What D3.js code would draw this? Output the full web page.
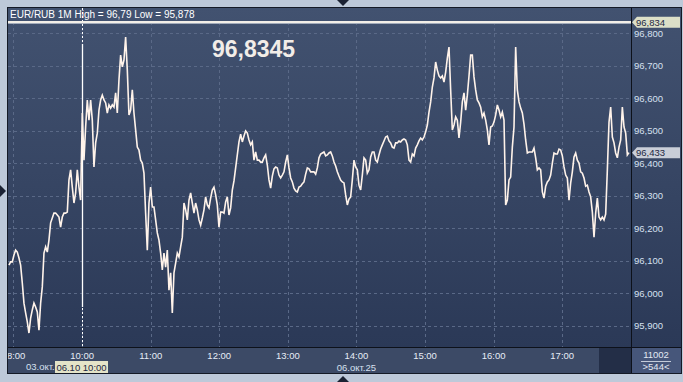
<!DOCTYPE html>
<html>
<head>
<meta charset="utf-8">
<script src="https://cdn.jsdelivr.net/npm/d3@7"></script>
<style>
  html, body { margin: 0; padding: 0; background: #bdc9d9; }
  svg { display: block; font-family: "Liberation Sans", Arial, sans-serif; }
</style>
</head>
<body>
<div id="chart"></div>
<script>
// EUR/RUB 1M tick chart, 03.10 – 06.10.2025

const title = 'EUR/RUB 1M High = 96,79 Low = 95,878';
const bigQuote = '96,8345';
const hourTicks = ['08:00', '10:00', '11:00', '12:00', '13:00', '14:00', '15:00', '16:00', '17:00'];
const yTicks = [95.9, 96.0, 96.1, 96.2, 96.3, 96.4, 96.5, 96.6, 96.7, 96.8];
const priceDomain = [95.835, 96.835];
const hourDomain = [-0.08, 9.003];        // axis position in session hours
const seriesSpan = [-0.066, 8.974];       // first / last quote position
const cursorHour = 1;                     // 06.10 10:00
const cursorRange = [95.958, 96.767];
const markLevel = 96.834;
const lastPrice = 96.433;
const barsTotal = 11002, barsShown = 544;
const dateLeft = '03.окт.', dateCursor = '06.10 10:00', dateMid = '06.окт.25';

// quotes left to right
const prices = [
  96.087, 96.097, 96.097, 96.118, 96.133, 96.127, 96.109, 96.087, 96.032, 95.970,
  95.940, 95.912, 95.878, 95.924, 95.949, 95.970, 95.958, 95.943, 95.887, 95.970,
  96.020, 96.124, 96.143, 96.127, 96.164, 96.217, 96.232, 96.247, 96.247, 96.241,
  96.235, 96.204, 96.235, 96.247, 96.247, 96.250, 96.349, 96.380, 96.327, 96.278,
  96.309, 96.380, 96.327, 96.287, 96.555, 96.410, 96.512, 96.595, 96.533, 96.595,
  96.533, 96.389, 96.463, 96.493, 96.564, 96.595, 96.610, 96.595, 96.586, 96.555,
  96.580, 96.570, 96.580, 96.573, 96.617, 96.555, 96.657, 96.733, 96.697, 96.718,
  96.789, 96.687, 96.549, 96.564, 96.626, 96.555, 96.503, 96.450, 96.441, 96.410,
  96.401, 96.370, 96.247, 96.133, 96.278, 96.327, 96.266, 96.266, 96.226, 96.186,
  96.164, 96.124, 96.072, 96.124, 96.081, 96.133, 96.010, 96.063, 95.940, 96.063,
  96.093, 96.124, 96.112, 96.143, 96.173, 96.278, 96.257, 96.226, 96.287, 96.309,
  96.278, 96.247, 96.278, 96.257, 96.226,
  96.210, 96.232, 96.257, 96.297, 96.272, 96.263, 96.293, 96.318, 96.327, 96.303,
  96.272, 96.204, 96.250, 96.250, 96.247, 96.281, 96.297, 96.241, 96.263, 96.318,
  96.346, 96.386, 96.426, 96.466, 96.490, 96.466, 96.484, 96.500, 96.493, 96.472,
  96.457, 96.466, 96.410, 96.435, 96.410, 96.410, 96.404, 96.404, 96.417, 96.426,
  96.395, 96.349, 96.324, 96.361, 96.383, 96.389, 96.386, 96.364, 96.355, 96.364,
  96.374, 96.404, 96.426, 96.386, 96.355, 96.343, 96.324, 96.315, 96.312, 96.327,
  96.330, 96.337, 96.343, 96.367, 96.386, 96.383, 96.374, 96.374, 96.374, 96.367,
  96.386, 96.417, 96.429, 96.432, 96.435, 96.423, 96.426, 96.432, 96.435, 96.423,
  96.404, 96.392, 96.374, 96.361, 96.349, 96.343, 96.340, 96.303, 96.272, 96.290,
  96.297, 96.349, 96.410, 96.389, 96.380, 96.333, 96.318, 96.364, 96.417, 96.410,
  96.370, 96.380, 96.420, 96.435, 96.435, 96.410, 96.404, 96.426, 96.444, 96.457,
  96.469, 96.481, 96.484, 96.469, 96.463, 96.450, 96.447, 96.463, 96.463, 96.469,
  96.466, 96.472, 96.475, 96.472, 96.457, 96.410, 96.404, 96.429, 96.423, 96.447,
  96.457, 96.469, 96.478, 96.472, 96.481, 96.497, 96.518, 96.558, 96.589, 96.635,
  96.663, 96.712, 96.687, 96.669, 96.663, 96.669, 96.650, 96.681, 96.724, 96.758,
  96.626, 96.503, 96.518, 96.543, 96.533, 96.478, 96.527, 96.589, 96.617, 96.564,
  96.610, 96.669, 96.733, 96.733, 96.666, 96.626, 96.595, 96.586, 96.573, 96.543,
  96.555, 96.533, 96.503, 96.457, 96.512, 96.515, 96.527, 96.549, 96.580, 96.564,
  96.543, 96.558, 96.533, 96.272, 96.287, 96.349, 96.358, 96.450, 96.512, 96.758,
  96.626, 96.589, 96.570, 96.555, 96.521, 96.472, 96.432, 96.435, 96.435, 96.435,
  96.447, 96.417, 96.380, 96.386, 96.380, 96.312, 96.293, 96.330, 96.343, 96.349,
  96.364, 96.401, 96.432, 96.429, 96.429, 96.444, 96.441, 96.423, 96.389, 96.364,
  96.355, 96.287, 96.340, 96.374, 96.420, 96.432, 96.410, 96.401, 96.374, 96.370,
  96.355, 96.330, 96.333, 96.312, 96.297, 96.250, 96.173, 96.247, 96.293, 96.235,
  96.226, 96.235, 96.226, 96.244, 96.380, 96.527, 96.573, 96.481, 96.463, 96.432,
  96.417, 96.450, 96.472, 96.573, 96.512, 96.493, 96.426, 96.433
];

const W = 683, H = 382;
const L = 8, R = 631, T = 8, B = 347, AX = 681, AB = 373;
const fmtY = v => d3.format('.3f')(v).replace('.', ',');

const svg = d3.select('#chart').append('svg')
  .attr('width', W).attr('height', H);

const defs = svg.append('defs');
const grad = defs.append('linearGradient').attr('id', 'bg')
  .attr('x1', 0).attr('y1', 0).attr('x2', 0).attr('y2', 1);
grad.append('stop').attr('offset', '0%').attr('stop-color', '#425270');
grad.append('stop').attr('offset', '100%').attr('stop-color', '#2b3957');
defs.append('clipPath').attr('id', 'plotClip')
  .append('rect').attr('x', L).attr('y', T).attr('width', R - L).attr('height', AB - T);

// frame arrows
svg.append('path').attr('d', 'M337,0L349,0L343,6Z').attr('fill', '#1b2233');
svg.append('path').attr('d', 'M337,382L349,382L343,376Z').attr('fill', '#1b2233');
svg.append('path').attr('d', 'M0,185L0,197L6,191Z').attr('fill', '#1b2233');

// panel backgrounds
svg.append('rect').attr('x', L).attr('y', T).attr('width', AX - L).attr('height', B - T)
  .attr('fill', 'url(#bg)');
svg.append('rect').attr('x', L).attr('y', B).attr('width', R - L).attr('height', AB - B)
  .attr('fill', '#3c4a66');
svg.append('rect').attr('x', 599).attr('y', B + 1).attr('width', R - 599).attr('height', AB - B - 1)
  .attr('fill', '#232e47');
svg.append('rect').attr('x', R).attr('y', B).attr('width', AX - R).attr('height', AB - B)
  .attr('fill', '#46567a');

const x = d3.scaleLinear().domain(hourDomain).range([L, R]);
const y = d3.scaleLinear().domain(priceDomain).range([B, 22]);

// grid
const grid = svg.append('g').attr('stroke', '#5a6987').attr('stroke-dasharray', '3,3')
  .attr('shape-rendering', 'crispEdges');
grid.selectAll('.gh').data(yTicks).join('line')
  .attr('x1', L).attr('x2', R)
  .attr('y1', d => Math.round(y(d)) + 0.5).attr('y2', d => Math.round(y(d)) + 0.5);
grid.selectAll('.gv').data(hourTicks.map((t, i) => i)).join('line')
  .attr('x1', d => Math.round(x(d)) + 0.5).attr('x2', d => Math.round(x(d)) + 0.5)
  .attr('y1', 22).attr('y2', B);

// cursor at 06.10 10:00
const cx = Math.round(x(cursorHour)) + 0.5;
svg.append('line').attr('x1', cx).attr('x2', cx).attr('y1', T).attr('y2', B)
  .attr('stroke', '#ffffff').attr('stroke-dasharray', '2,2').attr('shape-rendering', 'crispEdges');
svg.append('line').attr('x1', cx).attr('x2', cx)
  .attr('y1', y(cursorRange[1])).attr('y2', y(cursorRange[0]))
  .attr('stroke', '#ffffff').attr('stroke-width', 1.3);

// level line
svg.append('line').attr('x1', L).attr('x2', R).attr('y1', 22).attr('y2', 22)
  .attr('stroke', '#f3efe8').attr('stroke-width', 2);
svg.append('line').attr('x1', L).attr('x2', R).attr('y1', 23.5).attr('y2', 23.5)
  .attr('stroke', '#a3acbb').attr('stroke-width', 1);

// price line
const step = (seriesSpan[1] - seriesSpan[0]) / (prices.length - 1);
const line = d3.line()
  .x((d, i) => x(seriesSpan[0] + i * step))
  .y(d => y(d));
svg.append('path').datum(prices)
  .attr('d', line)
  .attr('fill', 'none')
  .attr('stroke', '#fff3ea')
  .attr('stroke-width', 1.6)
  .attr('stroke-linejoin', 'miter');

// header
svg.append('text').attr('x', 10).attr('y', 18)
  .attr('fill', '#ffffff').attr('font-size', 10).text(title);
svg.append('text').attr('x', 212).attr('y', 57)
  .attr('fill', '#f2ede8').attr('font-size', 23).attr('font-weight', 'bold').text(bigQuote);

// separators
svg.append('line').attr('x1', R + 0.5).attr('x2', R + 0.5).attr('y1', T).attr('y2', AB)
  .attr('stroke', '#0d111a');
svg.append('line').attr('x1', L).attr('x2', AX).attr('y1', B + 0.5).attr('y2', B + 0.5)
  .attr('stroke', '#0d111a');
svg.append('rect').attr('x', L - 0.5).attr('y', T - 0.5).attr('width', AX - L + 1).attr('height', AB - T + 1)
  .attr('fill', 'none').attr('stroke', '#141a26');

// right axis
svg.append('g').selectAll('text').data(yTicks).join('text')
  .attr('x', 634).attr('y', d => y(d) + 3.5)
  .attr('fill', '#d6e0f0').attr('font-size', 9.5)
  .text(fmtY);

function priceTag(v, fill) {
  const yy = y(v);
  svg.append('path')
    .attr('d', `M632,${yy}L637,${yy - 5.5}L680,${yy - 5.5}L680,${yy + 5.5}L637,${yy + 5.5}Z`)
    .attr('fill', fill);
  svg.append('text').attr('x', 636).attr('y', yy + 3.5)
    .attr('fill', '#1d2742').attr('font-size', 9.5).text(fmtY(v));
}
priceTag(markLevel, '#dcdfc8');
priceTag(lastPrice, '#c9ced8');

// bottom axis
const xa = svg.append('g').attr('clip-path', 'url(#plotClip)');
xa.selectAll('text').data(hourTicks).join('text')
  .attr('x', (d, i) => x(i)).attr('y', 359)
  .attr('text-anchor', 'middle').attr('fill', '#e6ecf6').attr('font-size', 9.5)
  .text(d => d);
xa.append('text').attr('x', 26).attr('y', 370)
  .attr('fill', '#d6e0f0').attr('font-size', 9.5).text(dateLeft);
xa.append('rect').attr('x', 55).attr('y', 361).attr('width', 53).attr('height', 12)
  .attr('fill', '#e4e4c8');
xa.append('text').attr('x', 81.5).attr('y', 370.5).attr('text-anchor', 'middle')
  .attr('fill', '#1d2742').attr('font-size', 9.5).text(dateCursor);
xa.append('text').attr('x', x(5)).attr('y', 370.5).attr('text-anchor', 'middle')
  .attr('fill', '#d6e0f0').attr('font-size', 9.5).text(dateMid);

// bar counter
svg.append('text').attr('x', 656).attr('y', 358).attr('text-anchor', 'middle')
  .attr('fill', '#e2e8f2').attr('font-size', 9.5).text(barsTotal);
svg.append('line').attr('x1', 641).attr('x2', 671).attr('y1', 361.5).attr('y2', 361.5)
  .attr('stroke', '#c4ccda');
svg.append('text').attr('x', 656).attr('y', 370).attr('text-anchor', 'middle')
  .attr('fill', '#e2e8f2').attr('font-size', 9.5).text('>' + barsShown + '<');
</script>
</body>
</html>
